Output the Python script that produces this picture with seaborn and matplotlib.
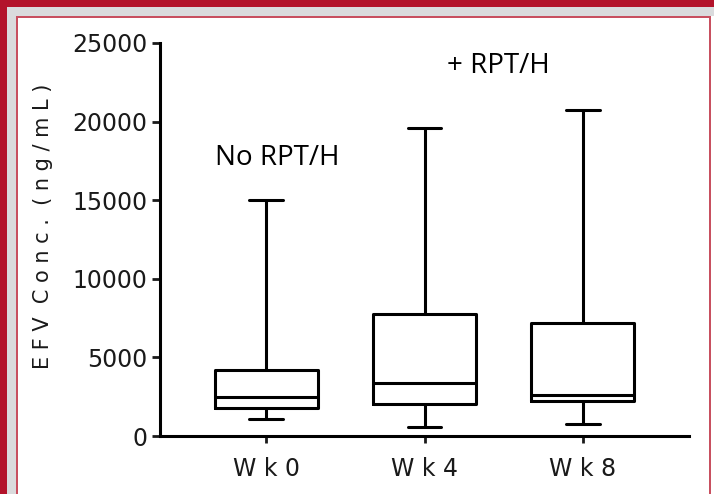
import pandas as pd
import numpy as np
import matplotlib
matplotlib.use("Agg")
import matplotlib.pyplot as plt
from matplotlib.patches import Rectangle
import seaborn as sns

# box summary: min, q1, median, q3, max
weeks = ["W k 0", "W k 4", "W k 8"]
wk0 = [1100, 1750, 2500, 4200, 15000]
wk4 = [600, 2050, 3350, 7750, 19600]
wk8 = [760, 2200, 2620, 7220, 20750]
y_ticks = [0, 5000, 10000, 15000, 20000, 25000]

df = pd.DataFrame({
    "week": np.repeat(weeks, 5),
    "conc": wk0 + wk4 + wk8,
})

sns.set_style("ticks")
plt.rcParams["font.family"] = ["DejaVu Sans"]

W, H = 714, 494
fig = plt.figure(figsize=(W / 100, H / 100), dpi=100, facecolor="white")
ax = fig.add_axes([160 / W, 1 - 436 / H, 529 / W, 393 / H])

# whis=(0, 100) -> whiskers at min and max, 5 values give exact quartiles
sns.boxplot(data=df, x="week", y="conc", whis=(0, 100), width=0.65,
            fill=False, color="black", linewidth=2.2, capwidths=0.21, ax=ax)

ax.set_xlim(-0.67, 2.67)
ax.set_ylim(0, 25000)
ax.set_yticks(y_ticks)
ax.set_yticklabels([str(t) for t in y_ticks])
ax.set_xlabel("")
ax.set_ylabel("E F V  C o n c .  ( n g / m L )", fontsize=15, color="#1a1a1a")
ax.yaxis.set_label_coords(-0.203, 0.533)
sns.despine(ax=ax)
for s in ["left", "bottom"]:
    ax.spines[s].set_linewidth(2.2)
    ax.spines[s].set_color("black")
ax.tick_params(axis="y", length=6, width=2, pad=3, labelsize=17, colors="#1a1a1a")
ax.tick_params(axis="x", length=5, width=2, pad=10, labelsize=17, colors="#1a1a1a")

ax.text(-0.32, 17260, "No RPT/H", fontsize=20, family="Open Sans",
        ha="left", va="baseline", color="black")
ax.text(1.14, 23100, "+ RPT/H", fontsize=20, family="Open Sans",
        ha="left", va="baseline", color="black")

# slide frame around the chart
red = "#B3132B"
grey = "#DADBDD"
thin = "#C85060"
def px_rect(x, y, w, h, c):
    fig.add_artist(Rectangle((x / W, 1 - (y + h) / H), w / W, h / H,
                             transform=fig.transFigure, color=c, lw=0, zorder=0))
px_rect(0, 0, 7, H, red)
px_rect(0, 0, W, 7, red)
px_rect(7, 7, 9, H - 7, grey)
px_rect(7, 7, W - 7, 9, grey)
px_rect(16, 16, 2, H - 16, thin)
px_rect(16, 16, 694, 2, thin)
px_rect(709, 16, 2, H - 16, thin)

fig.savefig("out.png", dpi=100, facecolor="white")
